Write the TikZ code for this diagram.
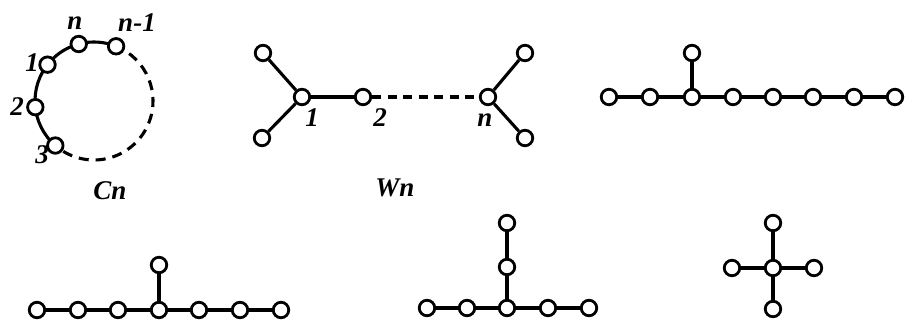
\documentclass[tikz,border=0pt]{standalone}
\usepackage{fontspec}
\setmainfont{Liberation Serif}
\usetikzlibrary{backgrounds,calc}
\begin{document}
\begin{tikzpicture}[x=1pt,y=1pt,
  v/.style={circle,draw,fill=white,line width=2.8pt,minimum size=15.5pt,inner sep=0pt},
  e/.style={line width=3.1pt},
  dsh/.style={line width=3.1pt,dash pattern=on 9pt off 6.5pt},
  lab/.style={font=\fontsize{27}{32}\selectfont\bfseries\itshape,inner sep=0pt}]
\path[use as bounding box] (0,0) rectangle (908,321);
% ---- Cn ----
\coordinate (cc) at (94,220);
\node[v] (cn)  at ($(cc)+(105:59)$) {};
\node[v] (cn1) at ($(cc)+(68:59)$) {};
\node[v] (c1)  at ($(cc)+(142:59)$) {};
\node[v] (c2)  at ($(cc)+(186:59)$) {};
\node[v] (c3)  at ($(cc)+(229:59)$) {};
\begin{pgfonlayer}{background}
\draw[e] (c3.center) arc[start angle=229,end angle=68,radius=59];
\draw[dsh,dash pattern=on 10pt off 7pt,dash phase=2pt] (cn1.center) arc[start angle=68,end angle=-131,radius=59];
\end{pgfonlayer}
\node[lab] (lcn)  at (75,298) {n};
\node[lab] (lcn1) at (137,298) {n-1};
\node[lab] (lc1)  at (32,258) {1};
\node[lab] (lc2)  at (17,214) {2};
\node[lab] (lc3)  at (42,166) {3};
\node[lab] (lCn)  at (110,130) {Cn};
% ---- Wn ----
\node[v] (wtl) at (263,268) {};
\node[v] (w1)  at (302,224) {};
\node[v] (wbl) at (262,183) {};
\node[v] (w2)  at (363,224) {};
\node[v] (wn)  at (488,224) {};
\node[v] (wtr) at (525,268) {};
\node[v] (wbr) at (525,183) {};
\draw[e] (wtl) -- (w1);
\draw[e] (wbl) -- (w1);
\draw[e] (w1) -- (w2);
\draw[dsh] (w2) -- (wn);
\draw[e] (wn) -- (wtr);
\draw[e] (wn) -- (wbr);
\node[lab] (lw1) at (312,203) {1};
\node[lab] (lw2) at (380,203) {2};
\node[lab] (lwn) at (485,201) {n};
\node[lab] (lWn) at (395,133) {Wn};
% ---- top right tree ----
\foreach \i/\x in {1/609,2/650,3/692,4/733,5/773,6/813,7/854,8/895}
  \node[v] (a\i) at (\x,224) {};
\node[v] (at) at (692,268) {};
\foreach \i/\j in {1/2,2/3,3/4,4/5,5/6,6/7,7/8}
  \draw[e] (a\i) -- (a\j);
\draw[e] (a3) -- (at);
% ---- bottom left tree ----
\foreach \i/\x in {1/37,2/78,3/118,4/159,5/199,6/240,7/281}
  \node[v] (b\i) at (\x,11) {};
\node[v] (bt) at (159,56) {};
\foreach \i/\j in {1/2,2/3,3/4,4/5,5/6,6/7}
  \draw[e] (b\i) -- (b\j);
\draw[e] (b4) -- (bt);
% ---- bottom middle tree ----
\foreach \i/\x in {1/427,2/467,3/507,4/548,5/589}
  \node[v] (m\i) at (\x,13) {};
\node[v] (mm) at (507,54) {};
\node[v] (mt) at (507,98) {};
\foreach \i/\j in {1/2,2/3,3/4,4/5}
  \draw[e] (m\i) -- (m\j);
\draw[e] (m3) -- (mm);
\draw[e] (mm) -- (mt);
% ---- cross ----
\node[v] (xc) at (773,53) {};
\node[v] (xl) at (732,53) {};
\node[v] (xr) at (814,53) {};
\node[v] (xt) at (773,98) {};
\node[v] (xb) at (773,12) {};
\draw[e] (xc) -- (xl);
\draw[e] (xc) -- (xr);
\draw[e] (xc) -- (xt);
\draw[e] (xc) -- (xb);
\end{tikzpicture}
\end{document}
